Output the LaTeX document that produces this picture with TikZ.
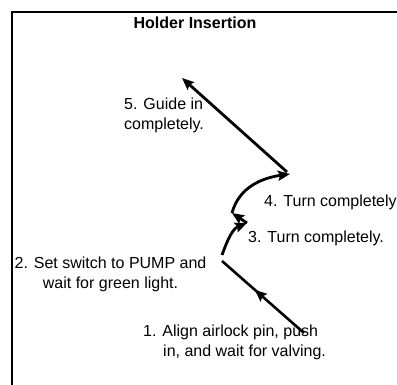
\documentclass[tikz,border=0pt]{standalone}
\usepackage{fontspec}
\setmainfont{Liberation Sans}
\usetikzlibrary{arrows.meta,decorations.markings}
\begin{document}
\begin{tikzpicture}[x=1pt,y=1pt,
  lbl/.style={font=\fontsize{16}{20}\selectfont, inner sep=0pt},
  head/.style={-{Stealth[length=12pt,width=10pt,inset=2pt]}},
  flow/.style={line width=2.8pt, head},
  midhead/.style={line width=2.6pt, postaction={decorate},
    decoration={markings, mark=at position 0.6 with {\arrow{Stealth[length=12pt,width=10pt,inset=2pt]}}}},
  ]
\useasboundingbox (0,0) rectangle (397,385);
% frame
\draw[line width=2pt] (12,0) -- (12,373) -- (397,373);
% title
\node[lbl, font=\fontsize{16}{20}\selectfont\bfseries, anchor=base] (title) at (195,356) {Holder Insertion};
% path points
\coordinate (p1) at (304,52);
\coordinate (p2) at (222,124);
\coordinate (p3) at (222,130);
\coordinate (p4) at (247,162);
\coordinate (p5) at (232,172);
\coordinate (p6) at (290,211);
\coordinate (p7) at (287,213);
\coordinate (p8) at (182,307);
% connectors
\draw[midhead] (p1) -- (p2);
\draw[flow] (p3) to[out=70, in=202] (p4);
\draw[flow] (p4) -- (p5);
\draw[flow] (p5) to[out=75, in=188] (p6);
\draw[flow] (p7) -- (p8);
% labels (base anchor = baseline of the last line)
\node[lbl, anchor=base west, align=left] (l5) at (124,255) {5. Guide in\\completely.};
\node[lbl, anchor=base west] (l4) at (264,178) {4. Turn completely};
\node[lbl, anchor=base west] (l3) at (248,142) {3. Turn completely.};
\node[lbl, anchor=base, align=center] (l2) at (110.5,96) {2. Set switch to PUMP and\\wait for green light.};
\node[lbl, anchor=base west, align=left] (l1) at (143,28) {1. Align airlock pin, push\\\hspace*{20pt}in, and wait for valving.};
\end{tikzpicture}
\end{document}
